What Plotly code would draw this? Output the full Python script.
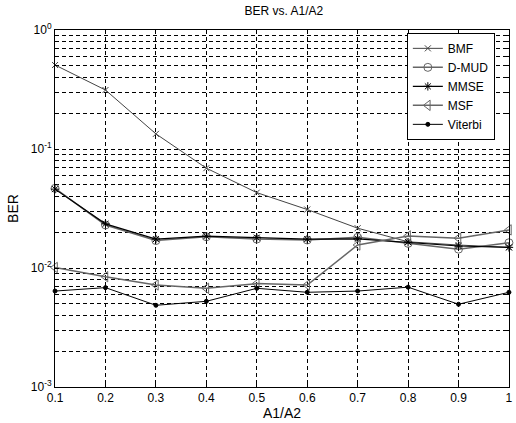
import plotly.graph_objects as go

x_vals = [0.1, 0.2, 0.3, 0.4, 0.5, 0.6, 0.7, 0.8, 0.9, 1.0]
bmf = [0.508, 0.313, 0.134, 0.069, 0.043, 0.031, 0.0216, 0.0166, 0.0156, 0.0149]
dmud = [0.0467, 0.0230, 0.0170, 0.0183, 0.0175, 0.0172, 0.0181, 0.0161, 0.0144, 0.0163]
mmse = [0.0460, 0.0235, 0.0175, 0.0185, 0.0180, 0.0175, 0.0176, 0.0165, 0.0153, 0.0149]
msf = [0.0101, 0.00845, 0.0072, 0.00675, 0.0074, 0.0072, 0.0156, 0.0186, 0.0178, 0.0209]
viterbi = [0.0064, 0.00684, 0.00486, 0.00525, 0.00675, 0.00625, 0.0064, 0.0069, 0.00496, 0.00625]

y_tickvals = [0.001, 0.01, 0.1, 1]
y_ticktext = ["10<sup>-3</sup>", "10<sup>-2</sup>", "10<sup>-1</sup>", "10<sup>0</sup>"]
x_tickvals = x_vals
x_ticktext = ["0.1", "0.2", "0.3", "0.4", "0.5", "0.6", "0.7", "0.8", "0.9", "1"]

series = [
    ("BMF", bmf, "#444444", "x-thin-open", 6, 1),
    ("D-MUD", dmud, "#666666", "circle-open", 8, 1.5),
    ("MMSE", mmse, "#000000", "asterisk-open", 7, 1.2),
    ("MSF", msf, "#666666", "triangle-left-open", 9, 1.5),
    ("Viterbi", viterbi, "#000000", "circle", 4, 1),
]

fig = go.Figure()
for name, ys, color, sym, size, w in series:
    fig.add_trace(go.Scatter(
        x=x_vals, y=ys, name=name, mode="lines+markers",
        line=dict(color=color, width=w),
        marker=dict(symbol=sym, size=size, color=color, line=dict(color=color, width=1)),
        cliponaxis=False,
    ))

fig.update_layout(
    width=516, height=423,
    margin=dict(l=55, r=7, t=30, b=36),
    paper_bgcolor="white", plot_bgcolor="white",
    font=dict(family="Liberation Sans, Arial, sans-serif", size=12, color="black"),
    title=dict(text="BER vs. A1/A2", x=0.55, xanchor="center", y=0.985, yanchor="top",
               font=dict(size=12)),
    showlegend=True,
    legend=dict(x=0.775, y=0.992, xanchor="left", yanchor="top",
                bgcolor="white", bordercolor="black", borderwidth=1,
                font=dict(size=12), tracegroupgap=0, itemwidth=30),
)
fig.update_xaxes(
    range=[0.0999, 1.0001], tickvals=x_tickvals, ticktext=x_ticktext,
    showline=True, linecolor="black", linewidth=1, mirror="ticks",
    ticks="inside", ticklen=4, tickcolor="black",
    showgrid=True, gridcolor="black", griddash="4px,3px", gridwidth=1,
    zeroline=False, automargin=False,
    title=dict(text="A1/A2", standoff=0),
)
fig.update_yaxes(
    type="log", range=[-3, 0], tickvals=y_tickvals, ticktext=y_ticktext,
    showline=True, linecolor="black", linewidth=1, mirror="ticks",
    ticks="inside", ticklen=4, tickcolor="black",
    showgrid=True, gridcolor="black", griddash="4px,3px", gridwidth=1,
    minor=dict(dtick="D1", showgrid=True, gridcolor="black", griddash="4px,3px", gridwidth=1,
               ticks="inside", ticklen=2, tickcolor="black"),
    zeroline=False, automargin=False,
    title=dict(text="BER", standoff=8),
)

fig.write_html("out.html", config={"displayModeBar": False},
               post_script="document.body.style.margin='0';document.body.style.overflow='hidden';")
